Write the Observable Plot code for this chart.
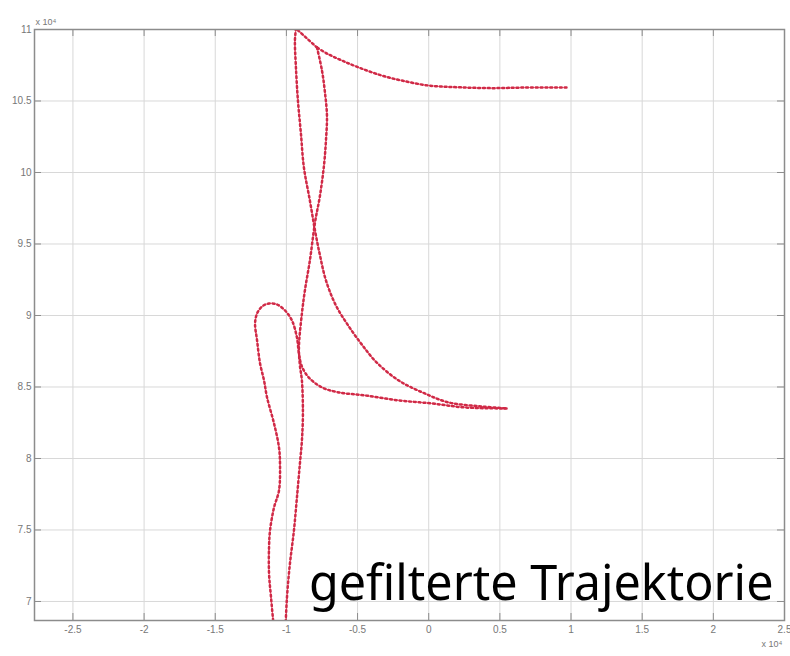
<!DOCTYPE html>
<html><head><meta charset="utf-8">
<script src="https://cdn.jsdelivr.net/npm/d3@7"></script>
<script src="https://cdn.jsdelivr.net/npm/@observablehq/plot@0.6"></script>
<style>body{margin:0;background:#fff}</style>
</head><body><div id="chart"></div>
<script>
// values in units of 10^4
const upperX = [0.968, 0.673, 0.442, 0.210, 0.0, -0.189, -0.330, -0.491, -0.610, -0.715, -0.785];
const upperY = [10.594, 10.594, 10.590, 10.596, 10.608, 10.643, 10.678, 10.734, 10.783, 10.832, 10.874];

const lineBX = [-0.785, -0.750, -0.729, -0.715, -0.722, -0.736, -0.764, -0.799, -0.835, -0.870, -0.891, -0.912, -0.905, -0.891, -0.884, -0.891, -0.905, -0.926, -0.947, -0.975, -0.996, -1.010];
const lineBY = [10.874, 10.713, 10.559, 10.399, 10.224, 10.049, 9.839, 9.650, 9.385, 9.175, 9.014, 8.776, 8.650, 8.545, 8.315, 8.126, 7.965, 7.727, 7.497, 7.266, 7.028, 6.727];

const linkX = [-0.785, -0.933];
const linkY = [10.874, 11.007];

const lineAX = [-0.933, -0.940, -0.933, -0.919, -0.898, -0.877, -0.835, -0.799, -0.764, -0.722, -0.652, -0.561, -0.470, -0.365, -0.210, -0.028, 0.140, 0.372, 0.547];
const lineAY = [11.007, 10.923, 10.734, 10.503, 10.273, 10.035, 9.804, 9.594, 9.420, 9.245, 9.070, 8.923, 8.797, 8.671, 8.545, 8.455, 8.392, 8.364, 8.350];

const loopX = [0.547, 0.252, 0.021, -0.210, -0.449, -0.631, -0.750, -0.842, -0.891, -0.912, -0.926, -0.961, -1.010, -1.066, -1.122, -1.171, -1.206, -1.220, -1.206, -1.185, -1.157, -1.136, -1.087, -1.052, -1.045, -1.052, -1.087, -1.115, -1.122, -1.122, -1.108, -1.080];
const loopY = [8.350, 8.357, 8.385, 8.406, 8.441, 8.462, 8.497, 8.566, 8.643, 8.734, 8.846, 8.965, 9.035, 9.077, 9.084, 9.063, 9.014, 8.944, 8.825, 8.664, 8.545, 8.427, 8.245, 8.077, 7.965, 7.776, 7.657, 7.497, 7.378, 7.196, 7.028, 6.727];

const xTicks = [-2.5, -2, -1.5, -1, -0.5, 0, 0.5, 1, 1.5, 2, 2.5];
const yTicks = [7, 7.5, 8, 8.5, 9, 9.5, 10, 10.5, 11];
const titleText = "gefilterte Trajektorie";
const expText = "x 10\u2074";

const series = [["upper", upperX, upperY], ["B", lineBX, lineBY], ["link", linkX, linkY], ["A", lineAX, lineAY], ["loop", loopX, loopY]];
const data = series.flatMap(([name, xs, ys]) => xs.map((x, i) => ({name, px: x, py: ys[i]})));
const fmt = d => String(d);

const W = 790, H = 656, ML = 34, MR = 6, MT = 29, MB = 36, TL = 7;
const FW = W - ML - MR, FH = H - MT - MB;

const plot = Plot.plot({
  width: W, height: H,
  marginLeft: ML, marginRight: MR, marginTop: MT, marginBottom: MB,
  style: {fontFamily: "'Liberation Sans', Arial, sans-serif", fontSize: "10px", color: "#777", background: "#fff"},
  x: {domain: [-2.77, 2.5], label: null},
  y: {domain: [6.867, 11], label: null},
  marks: [
    Plot.gridX(xTicks, {stroke: "#d8d8d8", strokeOpacity: 1}),
    Plot.gridY(yTicks, {stroke: "#d8d8d8", strokeOpacity: 1}),
    Plot.axisX(xTicks, {anchor: "bottom", tickSize: 0, tickPadding: 5, tickFormat: fmt, label: null, fill: "#777"}),
    Plot.axisY(yTicks, {anchor: "left", tickSize: 0, tickPadding: 3, tickFormat: fmt, label: null, fill: "#777"}),
    // inward MATLAB-style ticks on all four sides
    Plot.tickX(xTicks, {x: d => d, stroke: "#8c8c8c", insetTop: FH - TL}),
    Plot.tickX(xTicks, {x: d => d, stroke: "#8c8c8c", insetBottom: FH - TL}),
    Plot.tickY(yTicks, {y: d => d, stroke: "#8c8c8c", insetRight: FW - TL}),
    Plot.tickY(yTicks, {y: d => d, stroke: "#8c8c8c", insetLeft: FW - TL}),
    Plot.line(data, {x: "px", y: "py", z: "name", stroke: "#ff4a5e", strokeOpacity: 0.75, strokeWidth: 1, curve: "catmull-rom", clip: true}),
    Plot.line(data, {x: "px", y: "py", z: "name", stroke: "#cf2a47", strokeWidth: 2.5, strokeDasharray: "1.8,3", curve: "catmull-rom", clip: true}),
    Plot.frame({stroke: "#8c8c8c", strokeWidth: 1.5}),
    Plot.text([expText], {text: d => d, frameAnchor: "top-left", textAnchor: "start", dx: 1, dy: -11, fontSize: 9, fill: "#777"}),
    Plot.text([expText], {text: d => d, frameAnchor: "bottom-right", textAnchor: "end", dx: -2, dy: 26, fontSize: 9, fill: "#777"}),
    Plot.text([titleText], {text: d => d, frameAnchor: "bottom-right", textAnchor: "end", lineAnchor: "middle", dx: -11, dy: -36, fontSize: 48.5, fontFamily: "'Noto Sans', sans-serif", fill: "#000"})
  ]
});
document.getElementById("chart").appendChild(plot);
</script>
</body></html>
